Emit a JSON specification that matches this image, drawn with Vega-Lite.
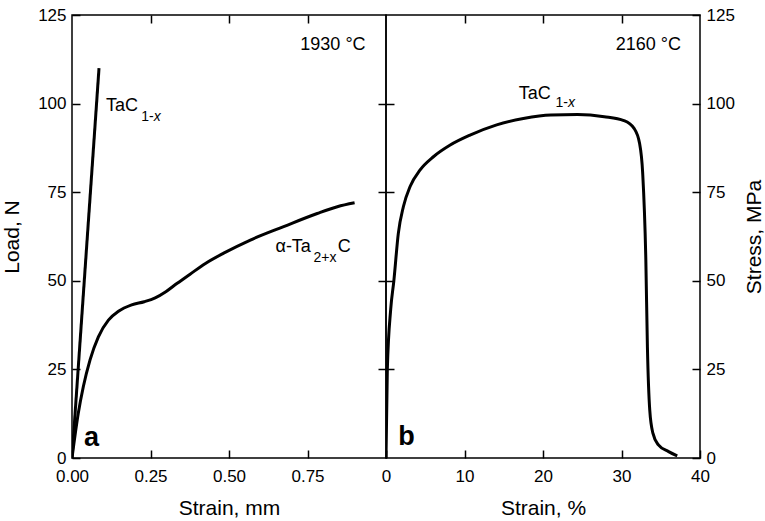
{
  "$schema": "https://vega.github.io/schema/vega-lite/v6.json",
  "padding": {"left": 0, "top": 5, "right": 0, "bottom": 0},
  "background": "white",
  "spacing": 0,
  "bounds": "flush",
  "config": {
    "view": {"stroke": "black", "strokeWidth": 1.5},
    "font": "Liberation Sans",
    "axis": {
      "domain": false,
      "grid": false,
      "labelFont": "Liberation Sans",
      "labelFontSize": 17,
      "labelColor": "black",
      "labelFlush": false,
      "titleFont": "Liberation Sans",
      "titleFontSize": 21,
      "titleFontWeight": "normal",
      "titleColor": "black",
      "tickColor": "black",
      "tickWidth": 1.5,
      "tickSize": -8,
      "labelPadding": 14
    }
  },
  "datasets": {
    "a_lines": [
      {"series": "TaC", "strain": 0, "load": 0},
      {"series": "TaC", "strain": 0.086, "load": 110},
      {"series": "Ta2C", "strain": 0, "load": 0},
      {"series": "Ta2C", "strain": 0.020, "load": 12.6},
      {"series": "Ta2C", "strain": 0.036, "load": 20.1},
      {"series": "Ta2C", "strain": 0.0575, "load": 27.7},
      {"series": "Ta2C", "strain": 0.084, "load": 34.2},
      {"series": "Ta2C", "strain": 0.116, "load": 38.9},
      {"series": "Ta2C", "strain": 0.148, "load": 41.4},
      {"series": "Ta2C", "strain": 0.190, "load": 43.2},
      {"series": "Ta2C", "strain": 0.230, "load": 44.1},
      {"series": "Ta2C", "strain": 0.265, "load": 45.2},
      {"series": "Ta2C", "strain": 0.300, "load": 47.0},
      {"series": "Ta2C", "strain": 0.335, "load": 49.3},
      {"series": "Ta2C", "strain": 0.375, "load": 51.8},
      {"series": "Ta2C", "strain": 0.425, "load": 54.9},
      {"series": "Ta2C", "strain": 0.483, "load": 57.8},
      {"series": "Ta2C", "strain": 0.568, "load": 61.5},
      {"series": "Ta2C", "strain": 0.674, "load": 65.3},
      {"series": "Ta2C", "strain": 0.781, "load": 69.0},
      {"series": "Ta2C", "strain": 0.845, "load": 70.9},
      {"series": "Ta2C", "strain": 0.900, "load": 72.0}
    ],
    "b_line": [
      {"strain": 0, "stress": 0},
      {"strain": 0.17, "stress": 25},
      {"strain": 0.6, "stress": 42},
      {"strain": 1.0, "stress": 50},
      {"strain": 1.57, "stress": 63.4},
      {"strain": 2.21, "stress": 70.9},
      {"strain": 3.07, "stress": 76.6},
      {"strain": 4.35, "stress": 81.3},
      {"strain": 6.04, "stress": 85.0},
      {"strain": 8.18, "stress": 88.3},
      {"strain": 10.7, "stress": 91.1},
      {"strain": 14.1, "stress": 94.0},
      {"strain": 17.5, "stress": 95.8},
      {"strain": 21.0, "stress": 96.8},
      {"strain": 24.4, "stress": 96.9},
      {"strain": 27.8, "stress": 96.3},
      {"strain": 30.3, "stress": 95.2},
      {"strain": 31.6, "stress": 93.0},
      {"strain": 32.3, "stress": 88.8},
      {"strain": 32.7, "stress": 80.3},
      {"strain": 33.1, "stress": 55.9},
      {"strain": 33.3, "stress": 31.4},
      {"strain": 33.6, "stress": 13.5},
      {"strain": 34.0, "stress": 7.0},
      {"strain": 34.7, "stress": 3.7},
      {"strain": 36.0, "stress": 1.8},
      {"strain": 37.1, "stress": 0.6}
    ]
  },
  "hconcat": [
    {
      "width": 314,
      "height": 443,
      "resolve": {"axis": {"x": "independent", "y": "independent"}},
      "layer": [
        {
          "data": {"name": "a_lines"},
          "mark": {"type": "line", "stroke": "black", "strokeWidth": 3, "interpolate": "monotone", "clip": true},
          "encoding": {
            "x": {"field": "strain", "type": "quantitative",
                  "scale": {"domain": [0, 1], "nice": false},
                  "axis": {"orient": "bottom", "values": [0, 0.25, 0.5, 0.75, 1],
                           "labelExpr": "datum.value >= 1 ? '' : format(datum.value, '.2f')",
                           "labelPadding": 18,
                           "title": "Strain, mm", "titlePadding": 13}},
            "y": {"field": "load", "type": "quantitative",
                  "scale": {"domain": [0, 125], "nice": false},
                  "axis": {"orient": "left", "values": [0, 25, 50, 75, 100, 125],
                           "title": "Load, N", "titlePadding": 15}},
            "detail": {"field": "series"}
          }
        },
        {
          "data": {"values": [
            {"x": 0.935, "y": 116.5, "text": "1930 °C"}
          ]},
          "mark": {"type": "text", "fontSize": 18, "font": "Liberation Sans", "color": "black", "align": "right", "baseline": "middle"},
          "encoding": {
            "x": {"field": "x", "type": "quantitative",
                  "scale": {"domain": [0, 1], "nice": false},
                  "axis": {"orient": "top", "values": [0.25, 0.5, 0.75], "labels": false, "title": null, "minExtent": 0, "maxExtent": 0}},
            "y": {"field": "y", "type": "quantitative",
                  "scale": {"domain": [0, 125], "nice": false},
                  "axis": {"orient": "right", "values": [25, 50, 75, 100], "labels": false, "title": null, "minExtent": 0, "maxExtent": 0}},
            "text": {"field": "text"}
          }
        },
        {
          "data": {"values": [
            {"x": 0.1085, "y": 99.4, "text": "TaC"},
            {"x": 0.648, "y": 59.5, "text": "α-Ta"},
            {"x": 0.846, "y": 59.5, "text": "C"}
          ]},
          "mark": {"type": "text", "fontSize": 18, "font": "Liberation Sans", "color": "black", "align": "left", "baseline": "middle"},
          "encoding": {
            "x": {"field": "x", "type": "quantitative", "scale": {"domain": [0, 1], "nice": false}, "axis": null},
            "y": {"field": "y", "type": "quantitative", "scale": {"domain": [0, 125], "nice": false}, "axis": null},
            "text": {"field": "text"}
          }
        },
        {
          "data": {"values": [
            {"x": 0.2202, "y": 96.3, "text": "1-"},
            {"x": 0.7690, "y": 56.4, "text": "2+x"}
          ]},
          "mark": {"type": "text", "fontSize": 14, "font": "Liberation Sans", "color": "black", "align": "left", "baseline": "middle"},
          "encoding": {
            "x": {"field": "x", "type": "quantitative", "scale": {"domain": [0, 1], "nice": false}, "axis": null},
            "y": {"field": "y", "type": "quantitative", "scale": {"domain": [0, 125], "nice": false}, "axis": null},
            "text": {"field": "text"}
          }
        },
        {
          "data": {"values": [
            {"x": 0.2600, "y": 96.3, "text": "x"}
          ]},
          "mark": {"type": "text", "fontSize": 14, "font": "Liberation Sans", "fontStyle": "italic", "color": "black", "align": "left", "baseline": "middle"},
          "encoding": {
            "x": {"field": "x", "type": "quantitative", "scale": {"domain": [0, 1], "nice": false}, "axis": null},
            "y": {"field": "y", "type": "quantitative", "scale": {"domain": [0, 125], "nice": false}, "axis": null},
            "text": {"field": "text"}
          }
        },
        {
          "data": {"values": [
            {"x": 0.038, "y": 3.4, "text": "a"}
          ]},
          "mark": {"type": "text", "fontSize": 27, "font": "Liberation Sans", "fontWeight": "bold", "color": "black", "align": "left", "baseline": "alphabetic"},
          "encoding": {
            "x": {"field": "x", "type": "quantitative", "scale": {"domain": [0, 1], "nice": false}, "axis": null},
            "y": {"field": "y", "type": "quantitative", "scale": {"domain": [0, 125], "nice": false}, "axis": null},
            "text": {"field": "text"}
          }
        }
      ]
    },
    {
      "width": 314,
      "height": 443,
      "resolve": {"axis": {"x": "independent", "y": "independent"}},
      "layer": [
        {
          "data": {"name": "b_line"},
          "mark": {"type": "line", "stroke": "black", "strokeWidth": 3, "interpolate": "monotone", "clip": true},
          "encoding": {
            "x": {"field": "strain", "type": "quantitative",
                  "scale": {"domain": [0, 40], "nice": false},
                  "axis": {"orient": "bottom", "values": [0, 10, 20, 30, 40],
                           "labelPadding": 18,
                           "title": "Strain, %", "titlePadding": 13}},
            "y": {"field": "stress", "type": "quantitative",
                  "scale": {"domain": [0, 125], "nice": false},
                  "axis": {"orient": "right", "values": [0, 25, 50, 75, 100, 125],
                           "title": "Stress, MPa", "titleAngle": 270, "titlePadding": 30}}
          }
        },
        {
          "data": {"values": [
            {"x": 37.57, "y": 116.5, "text": "2160 °C"}
          ]},
          "mark": {"type": "text", "fontSize": 18, "font": "Liberation Sans", "color": "black", "align": "right", "baseline": "middle"},
          "encoding": {
            "x": {"field": "x", "type": "quantitative",
                  "scale": {"domain": [0, 40], "nice": false},
                  "axis": {"orient": "top", "values": [10, 20, 30], "labels": false, "title": null, "minExtent": 0, "maxExtent": 0}},
            "y": {"field": "y", "type": "quantitative",
                  "scale": {"domain": [0, 125], "nice": false},
                  "axis": {"orient": "left", "values": [25, 50, 75, 100], "labels": false, "title": null, "minExtent": 0, "maxExtent": 0}},
            "text": {"field": "text"}
          }
        },
        {
          "data": {"values": [
            {"x": 16.9, "y": 102.7, "text": "TaC"}
          ]},
          "mark": {"type": "text", "fontSize": 18, "font": "Liberation Sans", "color": "black", "align": "left", "baseline": "middle"},
          "encoding": {
            "x": {"field": "x", "type": "quantitative", "scale": {"domain": [0, 40], "nice": false}, "axis": null},
            "y": {"field": "y", "type": "quantitative", "scale": {"domain": [0, 125], "nice": false}, "axis": null},
            "text": {"field": "text"}
          }
        },
        {
          "data": {"values": [
            {"x": 21.6, "y": 100.3, "text": "1-"}
          ]},
          "mark": {"type": "text", "fontSize": 14, "font": "Liberation Sans", "color": "black", "align": "left", "baseline": "middle"},
          "encoding": {
            "x": {"field": "x", "type": "quantitative", "scale": {"domain": [0, 40], "nice": false}, "axis": null},
            "y": {"field": "y", "type": "quantitative", "scale": {"domain": [0, 125], "nice": false}, "axis": null},
            "text": {"field": "text"}
          }
        },
        {
          "data": {"values": [
            {"x": 23.2, "y": 100.3, "text": "x"}
          ]},
          "mark": {"type": "text", "fontSize": 14, "font": "Liberation Sans", "fontStyle": "italic", "color": "black", "align": "left", "baseline": "middle"},
          "encoding": {
            "x": {"field": "x", "type": "quantitative", "scale": {"domain": [0, 40], "nice": false}, "axis": null},
            "y": {"field": "y", "type": "quantitative", "scale": {"domain": [0, 125], "nice": false}, "axis": null},
            "text": {"field": "text"}
          }
        },
        {
          "data": {"values": [
            {"x": 1.57, "y": 3.7, "text": "b"}
          ]},
          "mark": {"type": "text", "fontSize": 27, "font": "Liberation Sans", "fontWeight": "bold", "color": "black", "align": "left", "baseline": "alphabetic"},
          "encoding": {
            "x": {"field": "x", "type": "quantitative", "scale": {"domain": [0, 40], "nice": false}, "axis": null},
            "y": {"field": "y", "type": "quantitative", "scale": {"domain": [0, 125], "nice": false}, "axis": null},
            "text": {"field": "text"}
          }
        }
      ]
    }
  ]
}
